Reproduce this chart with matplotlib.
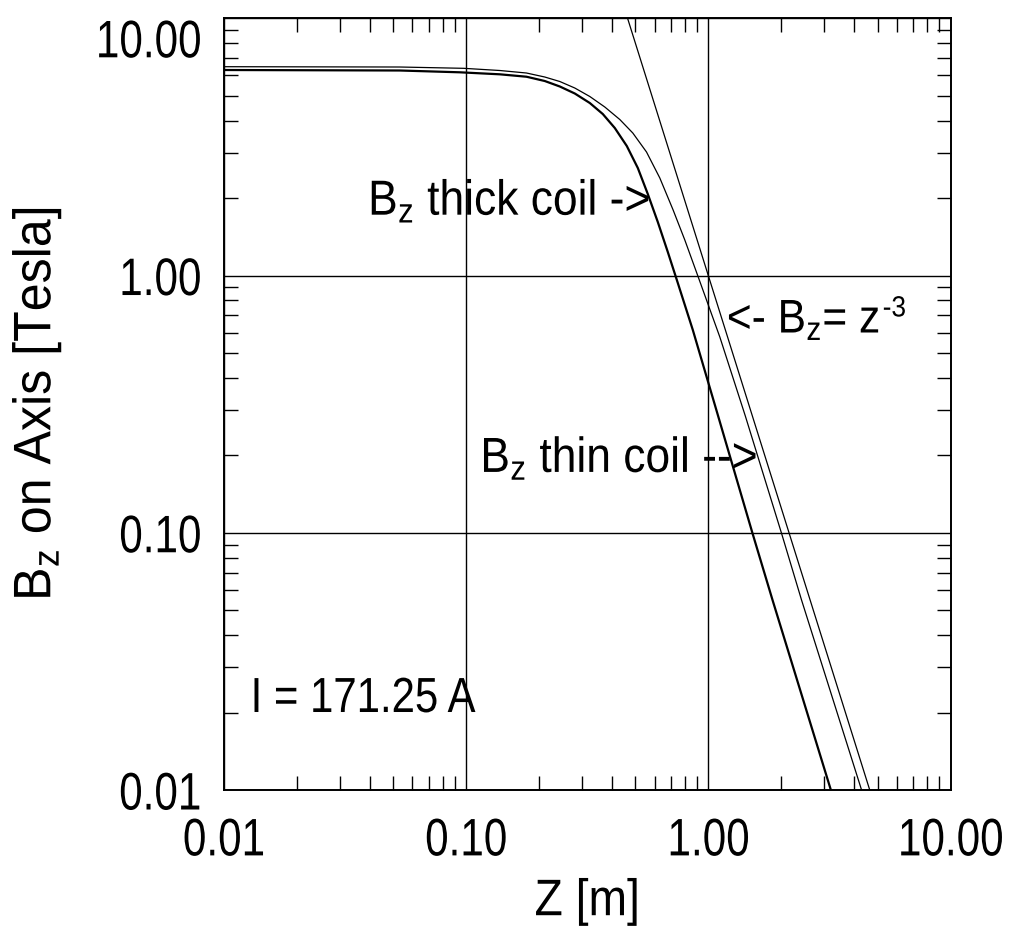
import matplotlib
matplotlib.use("Agg")
import matplotlib.pyplot as plt
from matplotlib.patheffects import AbstractPathEffect
from matplotlib.transforms import Affine2D
from matplotlib.ticker import FixedLocator, FuncFormatter, LogLocator, NullFormatter

plt.rcParams['font.family'] = ['Liberation Sans', 'DejaVu Sans']
plt.rcParams['mathtext.fontset'] = 'custom'
plt.rcParams['mathtext.rm'] = 'Liberation Sans'
plt.rcParams['mathtext.it'] = 'Liberation Sans:italic'


class Squeeze(AbstractPathEffect):
    """Squeeze text horizontally (the original uses a narrow font)."""

    def __init__(self, sx=0.85, anchor=0.0):
        super().__init__()
        self.sx = sx
        self.anchor = anchor

    def draw_path(self, renderer, gc, tpath, affine, rgbFace=None):
        ext = tpath.get_extents()
        x0 = ext.x0 + self.anchor * ext.width
        t = Affine2D().translate(-x0, 0).scale(self.sx, 1).translate(x0, 0) + affine
        renderer.draw_path(gc, tpath, t, rgbFace)


# values
z_thin = [0.0100, 0.0532, 0.0977, 0.1377, 0.1774, 0.2112, 0.2436, 0.2809, 0.3240,
          0.3737, 0.4310, 0.4877, 0.5556, 0.6305, 0.7155, 0.7997, 0.9076, 1.1156,
          1.4217, 2.0062, 2.4264, 4.293]
b_thin = [6.484, 6.466, 6.391, 6.267, 6.128, 5.912, 5.679, 5.358, 4.966,
          4.520, 4.041, 3.581, 3.021, 2.394, 1.798, 1.374, 0.9893, 0.5766,
          0.2843, 0.09946, 0.05474, 0.0100]

z_thick = [0.0100, 0.0532, 0.0941, 0.1377, 0.1774, 0.2112, 0.2436, 0.2809, 0.3240,
           0.3666, 0.4110, 0.4606, 0.5115, 0.5624, 0.6186, 0.6803, 0.7482, 0.8630,
           1.0977, 1.5224, 1.8415, 3.2063]
b_thick = [6.295, 6.267, 6.167, 6.057, 5.928, 5.704, 5.431, 5.101, 4.685,
           4.245, 3.745, 3.188, 2.618, 2.074, 1.614, 1.234, 0.9351, 0.6140,
           0.2843, 0.09946, 0.05474, 0.0100]

# the z^-3 reference line, end points
z_pow = [0.464, 4.64]
b_pow = [10.0, 0.01]

decades = [0.01, 0.1, 1.0, 10.0]

fig = plt.figure(figsize=(10.13, 9.33), dpi=100)
ax = fig.add_axes([224 / 1013, 143 / 933, 726.5 / 1013, 771.7 / 933])

ax.plot(z_thick, b_thick, color='black', lw=1.6)
ax.plot(z_thin, b_thin, color='black', lw=0.9)
ax.plot(z_pow, b_pow, color='black', lw=0.9)

ax.set_xscale('log')
ax.set_yscale('log')
ax.set_xlim(0.01, 10)
ax.set_ylim(0.01, 10)

# major ticks -> grid lines, minor ticks pointing inward on every side
ax.xaxis.set_major_locator(FixedLocator(decades))
ax.yaxis.set_major_locator(FixedLocator(decades))
ax.xaxis.set_minor_locator(LogLocator(base=10, subs=range(2, 10)))
ax.yaxis.set_minor_locator(LogLocator(base=10, subs=range(2, 10)))
fmt = FuncFormatter(lambda v, p: '%.2f' % v)
ax.xaxis.set_major_formatter(fmt)
ax.yaxis.set_major_formatter(fmt)
ax.xaxis.set_minor_formatter(NullFormatter())
ax.yaxis.set_minor_formatter(NullFormatter())
ax.grid(True, which='major', color='black', lw=1.0)
ax.tick_params(which='major', length=0, labelsize=38)
ax.tick_params(axis='x', which='major', pad=19)
ax.tick_params(axis='y', which='major', pad=16)
ax.tick_params(which='minor', direction='in', length=10, width=1.0,
               top=True, right=True, bottom=True, left=True)
for s in ax.spines.values():
    s.set_linewidth(1.4)

for t in ax.xaxis.get_major_ticks():
    t.label1.set_path_effects([Squeeze(0.8, 0.5)])
for t in ax.yaxis.get_major_ticks():
    t.label1.set_path_effects([Squeeze(0.8, 1.0)])
# the top y label sits inside the figure in the original
ax.yaxis.get_major_ticks()[-1].label1.set_va('top')

ax.set_xlabel('Z [m]', fontsize=37)
ax.xaxis.set_label_coords(0.5, -0.113)
ax.xaxis.label.set_path_effects([Squeeze(0.9, 0.5)])
ax.set_ylabel(r'B$_\mathrm{z}$ on Axis [Tesla]', fontsize=38, va='center')
ax.yaxis.set_label_coords(-0.258, 0.5)
ax.yaxis.label.set_path_effects([Squeeze(0.95, 0.5)])

# (x, y, text, ha, squeeze)
notes = [
    (0.573, 1.72, r'B$_\mathrm{z}$ thick coil ->', 'right', 0.9),
    (0.0128, 0.0201, 'I = 171.25 A', 'left', 0.85),
    (1.59, 0.172, r'B$_\mathrm{z}$ thin coil -->', 'right', 0.9),
]
for x, y, s, ha, sq in notes:
    ax.text(x, y, s, fontsize=35.5, ha=ha, va='baseline',
            path_effects=[Squeeze(sq, 0.0 if ha == 'left' else 1.0)])

t3 = ax.text(1.19, 0.60, r'<- B$_\mathrm{z}$= z', fontsize=34, ha='left', va='baseline',
             path_effects=[Squeeze(0.9, 0.0)])
ax.annotate('-3', xy=(0.9, 1.0), xycoords=t3, xytext=(2, 3), textcoords='offset points',
            ha='left', va='top', fontsize=21, path_effects=[Squeeze(0.9, 0.0)])

fig.savefig('out.png', dpi=100)
